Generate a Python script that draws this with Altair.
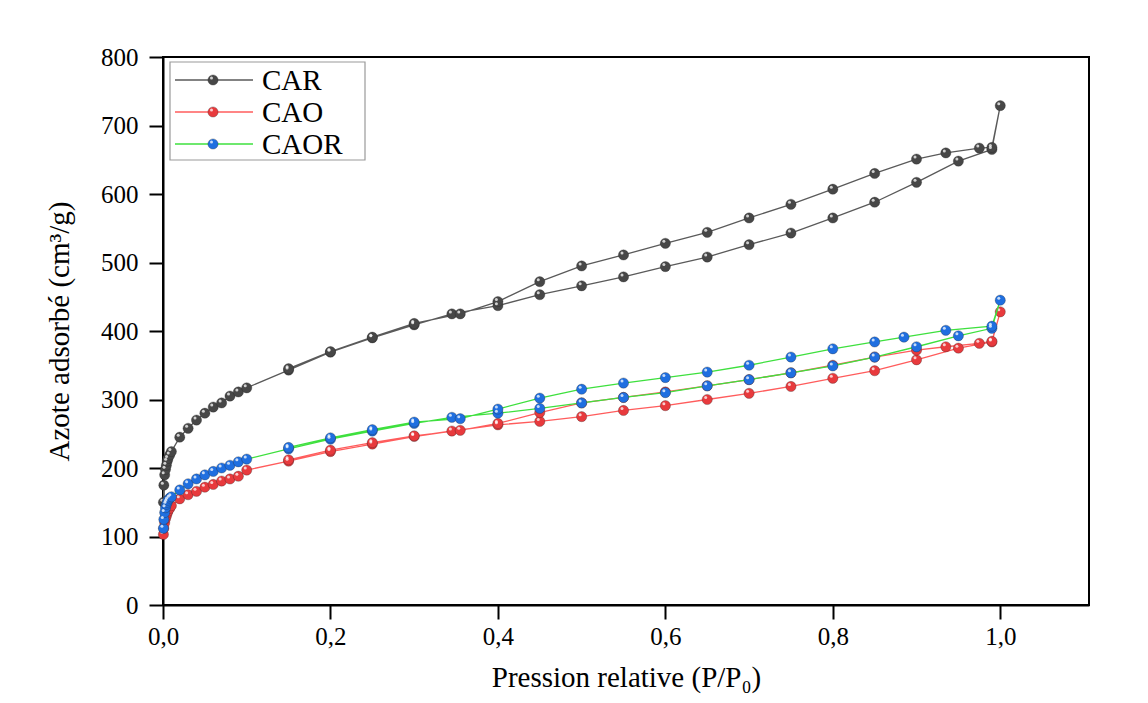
import altair as alt
import pandas as pd

series = ["CAR", "CAO", "CAOR"]
line_colors = ["#5a5a5a", "#ff5c5c", "#3ee03e"]
point_colors = ["#474747", "#e83a3d", "#1f6fe0"]

low_p = [0.0005, 0.001, 0.002, 0.003, 0.004, 0.005, 0.006, 0.008, 0.01,
         0.02, 0.03, 0.04, 0.05, 0.06, 0.07, 0.08, 0.09, 0.10,
         0.15, 0.20, 0.25, 0.30, 0.345, 0.40, 0.45, 0.50, 0.55, 0.60,
         0.65, 0.70, 0.75, 0.80, 0.85, 0.90, 0.95, 0.99, 1.0]

car_ads_v = [150, 175, 190, 198, 204, 210, 214, 219, 224,
             245, 258, 270, 280, 289, 295, 305, 311, 317,
             343, 369, 390, 409, 425, 437, 453, 466, 479, 494,
             508, 526, 543, 565, 588, 617, 648, 665, 729]
car_des_p = [0.99, 0.975, 0.935, 0.90, 0.85, 0.80, 0.75, 0.70, 0.65, 0.60,
             0.55, 0.50, 0.45, 0.40, 0.355, 0.30, 0.25, 0.20, 0.15]
car_des_v = [668, 667, 660, 651, 630, 607, 585, 565, 544, 528,
             511, 495, 472, 443, 425, 411, 391, 370, 345]

cao_ads_v = [103, 112, 120, 126, 130, 134, 137, 141, 145,
             155, 161, 166, 172, 176, 181, 184, 188, 197,
             210, 224, 235, 246, 254, 263, 268, 275, 284, 291,
             300, 309, 319, 331, 342, 358, 375, 384, 428]
cao_des_p = [0.99, 0.975, 0.935, 0.90, 0.85, 0.80, 0.75, 0.70, 0.65, 0.60,
             0.55, 0.50, 0.45, 0.40, 0.355, 0.30, 0.25, 0.20, 0.15]
cao_des_v = [385, 382, 377, 372, 362, 350, 339, 329, 320, 311,
             303, 295, 281, 265, 255, 247, 237, 226, 212]

caor_ads_v = [112, 125, 135, 142, 147, 150, 153, 156, 158,
              168, 177, 184, 190, 195, 200, 204, 209, 213,
              228, 242, 254, 265, 274, 280, 287, 295, 303, 310,
              320, 329, 339, 349, 362, 377, 393, 404, 445]
caor_des_p = [0.99, 0.935, 0.885, 0.85, 0.80, 0.75, 0.70, 0.65, 0.60,
              0.55, 0.50, 0.45, 0.40, 0.355, 0.30, 0.25, 0.20, 0.15]
caor_des_v = [407, 401, 391, 384, 374, 362, 350, 340, 332,
              324, 315, 302, 286, 272, 267, 256, 244, 230]

x_ticks = [0.0, 0.2, 0.4, 0.6, 0.8, 1.0]
y_ticks = [0, 100, 200, 300, 400, 500, 600, 700, 800]

raw = {
    "CAR": (low_p, car_ads_v, car_des_p, car_des_v),
    "CAO": (low_p, cao_ads_v, cao_des_p, cao_des_v),
    "CAOR": (low_p, caor_ads_v, caor_des_p, caor_des_v),
}

FONT = "Liberation Serif"
W, H = 926, 548

xs = alt.Scale(domain=[0, 1.106], nice=False, zero=False)
ys = alt.Scale(domain=[0, 800], nice=False)

layers = []
for i, name in enumerate(series):
    ap, av, dp, dv = raw[name]
    rows = []
    k = 0
    for p, v in zip(ap, av):
        rows.append({"series": name, "p": p, "v": v, "k": k}); k += 1
    for p, v in zip(dp, dv):
        rows.append({"series": name, "p": p, "v": v, "k": k}); k += 1
    d = pd.DataFrame(rows)
    base = alt.Chart(d)
    ln = base.mark_line(color=line_colors[i], strokeWidth=1.3).encode(
        x=alt.X("p:Q", scale=xs,
                axis=alt.Axis(values=x_ticks, title="Pression relative (P/P₀)",
                              labelExpr="replace(format(datum.value, '.1f'), '.', ',')")),
        y=alt.Y("v:Q", scale=ys,
                axis=alt.Axis(values=y_ticks, title="Azote adsorbé (cm³/g)")),
        order="k:Q",
    )
    pt = base.mark_circle(size=105, opacity=1, color=point_colors[i],
                          stroke="#222222", strokeWidth=0.3).encode(
        x=alt.X("p:Q", scale=xs), y=alt.Y("v:Q", scale=ys))
    hl = base.mark_circle(size=9, opacity=0.75, color="white",
                          xOffset=-1.5, yOffset=-2).encode(
        x=alt.X("p:Q", scale=xs), y=alt.Y("v:Q", scale=ys))
    layers += [ln, pt, hl]

# legend
leg_df = pd.DataFrame({"series": series})
box = alt.Chart(leg_df.head(1)).mark_rect(fill="white", stroke="#9a9a9a", strokeWidth=1.2).encode(
    x=alt.value(7), x2=alt.value(202), y=alt.value(5), y2=alt.value(103))
layers.append(box)
for i, name in enumerate(series):
    d = leg_df.iloc[[i]]
    yy = 23 + 32 * i
    layers.append(alt.Chart(d).mark_rule(color=line_colors[i], strokeWidth=1.3).encode(
        x=alt.value(12), x2=alt.value(90), y=alt.value(yy)))
    layers.append(alt.Chart(d).mark_circle(size=105, opacity=1, color=point_colors[i],
                                           stroke="#222222", strokeWidth=0.3).encode(
        x=alt.value(50), y=alt.value(yy)))
    layers.append(alt.Chart(d).mark_circle(size=9, opacity=0.75, color="white",
                                           xOffset=-1.5, yOffset=-2).encode(
        x=alt.value(50), y=alt.value(yy)))
    layers.append(alt.Chart(d).mark_text(font=FONT, fontSize=29, align="left",
                                         baseline="middle", color="black").encode(
        x=alt.value(99), y=alt.value(yy + 1), text="series:N"))

chart = alt.layer(*layers).properties(
    width=W, height=H,
    background="white",
    autosize=alt.AutoSizeParams(type="none"),
    padding={"left": 163, "top": 57, "right": 59, "bottom": 98},
).configure_view(
    stroke="black", strokeWidth=2
).configure_axis(
    grid=False, domainColor="black", domainWidth=2,
    tickColor="black", tickWidth=2, tickSize=14,
    labelFont=FONT, labelFontSize=25, labelColor="black",
    titleFont=FONT, titleFontSize=29, titleFontWeight="normal", titleColor="black",
).configure_axisX(
    labelPadding=5, titlePadding=14, labelFlush=False
).configure_axisY(
    labelPadding=11, titlePadding=26
)

chart.save("out.html", embed_options={"renderer": "svg", "actions": False})
